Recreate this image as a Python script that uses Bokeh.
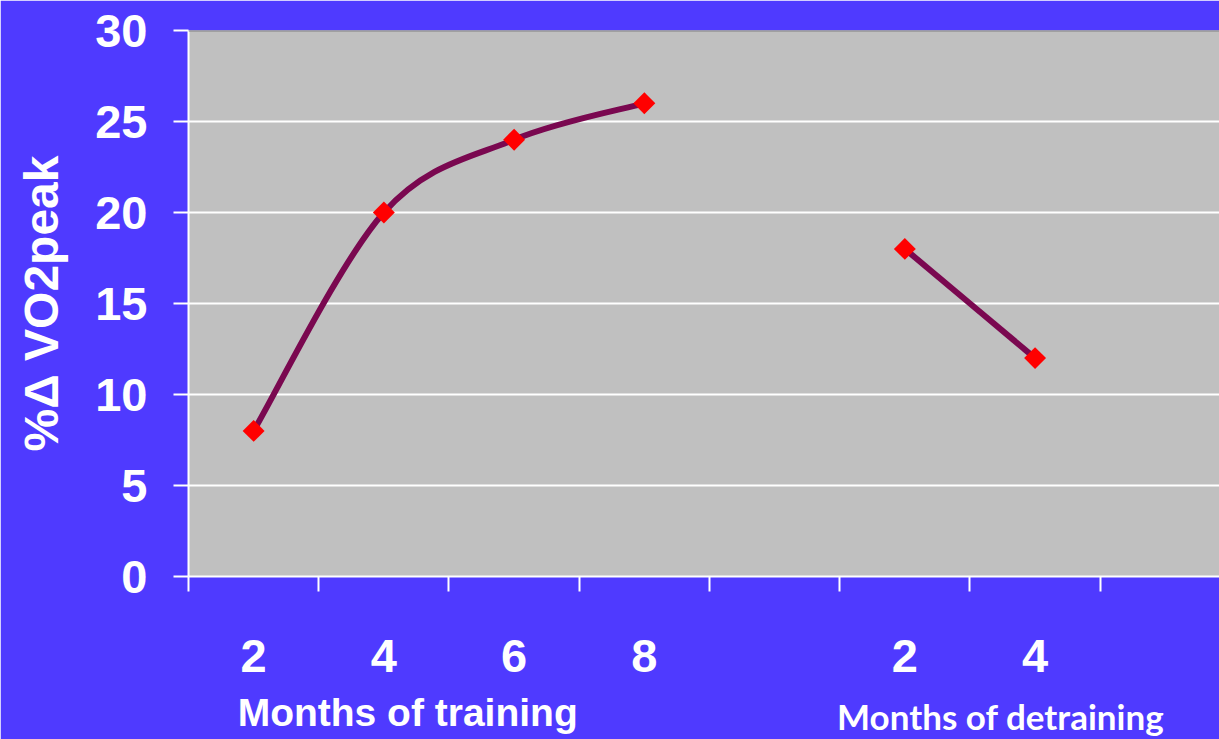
import numpy as np
from bokeh.plotting import figure
from bokeh.models import Range1d, FixedTicker, Span, LinearAxis
from bokeh.embed import file_html
from bokeh.resources import INLINE

# ---- data ----
train_months = ["2", "4", "6", "8"]
train_pct = [8, 20, 24, 26]
detrain_months = ["2", "4"]
detrain_pct = [18, 12]
y_ticks = [0, 5, 10, 15, 20, 25, 30]
train_title = "Months of training"
detrain_title = "Months of detraining"
y_title = "%Δ VO2peak"

BG = "#4F3AFF"
LINE = "#7A0850"

# slot positions (one empty slot between the two phases)
train_x = [i + 0.5 for i in range(len(train_months))]
detrain_x = [len(train_months) + 1 + i + 0.5 for i in range(len(detrain_months))]
n_slots = len(train_months) + 1 + len(detrain_months) + 1

p = figure(width=1219, height=739, output_backend="svg", toolbar_location=None,
           x_range=Range1d(0, 7.916), y_range=Range1d(0, 30),
           min_border_left=188, min_border_right=0, min_border_top=30,
           min_border_bottom=161,
           background_fill_color="#C0C0C0", border_fill_color=BG,
           outline_line_color=None)


def smooth_segments(xs, ys):
    xs = list(xs); ys = list(ys)
    xp = [xs[0]] + xs + [xs[-1]]
    yp = [ys[0]] + ys + [ys[-1]]
    out = dict(x0=[], y0=[], x1=[], y1=[], cx0=[], cy0=[], cx1=[], cy1=[])
    for i in range(len(xs) - 1):
        a, b, c, d = i, i + 1, i + 2, i + 3
        out["x0"].append(xp[b]); out["y0"].append(yp[b])
        out["x1"].append(xp[c]); out["y1"].append(yp[c])
        out["cx0"].append(xp[b] + (xp[c] - xp[a]) / 6.0)
        out["cy0"].append(yp[b] + (yp[c] - yp[a]) / 6.0)
        out["cx1"].append(xp[c] - (xp[d] - xp[b]) / 6.0)
        out["cy1"].append(yp[c] - (yp[d] - yp[b]) / 6.0)
    return out


for xs, ys in [(train_x, train_pct), (detrain_x, detrain_pct)]:
    seg = smooth_segments(xs, ys)
    p.bezier(x0=seg["x0"], y0=seg["y0"], x1=seg["x1"], y1=seg["y1"],
             cx0=seg["cx0"], cy0=seg["cy0"], cx1=seg["cx1"], cy1=seg["cy1"],
             line_color=LINE, line_width=6)
    p.scatter(xs, ys, marker="square", size=15.5, angle=np.pi / 4,
              fill_color="#FF0000", line_color=None)

# top border
p.add_layout(Span(location=30, dimension="width", line_color="#808080",
                  line_width=2))

# grids
p.xgrid.grid_line_color = None
p.ygrid.grid_line_color = "white"
p.ygrid.grid_line_width = 2
p.ygrid.ticker = FixedTicker(ticks=y_ticks)

# y axis
ya = p.yaxis[0]
ya.ticker = FixedTicker(ticks=y_ticks)
ya.axis_line_color = "white"
ya.axis_line_width = 2
ya.major_tick_line_color = "white"
ya.major_tick_line_width = 2
ya.major_tick_out = 15
ya.major_tick_in = 0
ya.minor_tick_line_color = None
ya.major_label_text_font = "Liberation Sans"
ya.major_label_text_font_style = "bold"
ya.major_label_text_font_size = "47px"
ya.major_label_text_color = "white"
ya.major_label_standoff = 26
ya.axis_label = y_title
ya.axis_label_text_font = "Liberation Sans"
ya.axis_label_text_font_style = "bold"
ya.axis_label_text_font_size = "48px"
ya.axis_label_text_color = "white"
ya.axis_label_standoff = 24

# x axis (month numbers)
xa = p.xaxis[0]
xa.ticker = FixedTicker(ticks=train_x + detrain_x,
                        minor_ticks=list(range(n_slots)))
xa.major_label_overrides = {x: m for x, m in zip(train_x + detrain_x,
                                                  train_months + detrain_months)}
xa.axis_line_color = "white"
xa.axis_line_width = 2
xa.major_tick_line_color = None
xa.major_tick_out = 0
xa.major_tick_in = 0
xa.minor_tick_line_color = "white"
xa.minor_tick_line_width = 2
xa.minor_tick_out = 15
xa.minor_tick_in = 0
xa.major_label_text_font = "Liberation Sans"
xa.major_label_text_font_style = "bold"
xa.major_label_text_font_size = "47px"
xa.major_label_text_color = "white"
xa.major_label_standoff = 48


def title_axis(pos, text, font, size, standoff):
    ax = LinearAxis(ticker=FixedTicker(ticks=[pos], minor_ticks=[]),
                    major_label_overrides={pos: text},
                    axis_line_color=None, major_tick_line_color=None,
                    minor_tick_line_color=None, major_tick_out=0,
                    major_tick_in=0, minor_tick_out=0, minor_tick_in=0,
                    major_label_text_font=font,
                    major_label_text_font_style="bold",
                    major_label_text_font_size=size,
                    major_label_text_color="white",
                    major_label_standoff=standoff)
    p.add_layout(ax, "below")


title_axis(6.236, detrain_title, "Lato", "35px", 20)
title_axis(1.683, train_title, "Liberation Sans", "39px", -49)

open("out.html", "w").write(file_html(p, INLINE))
